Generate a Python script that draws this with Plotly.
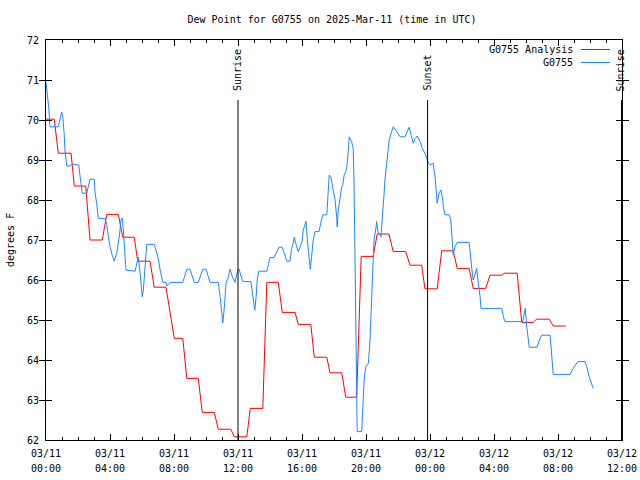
import pandas as pd
import plotly.graph_objects as go

START = pd.Timestamp("2025-03-11 00:00")

# Analysis series: minutes after 03/11 00:00 UTC, dew point (F)
analysis_min = [0, 31, 46, 94, 106, 149, 165, 211, 228, 271, 288, 331, 344, 390, 406, 450,
                481, 513, 528, 571, 586, 631, 646, 693, 706, 753, 766, 813, 828, 871, 886,
                934, 946, 993, 1006, 1053, 1065, 1109, 1124, 1165, 1182, 1227, 1242, 1286,
                1302, 1349, 1365, 1409, 1421, 1467, 1484, 1527, 1542, 1587, 1602, 1649, 1665,
                1710, 1718, 1767, 1784, 1827, 1839, 1887, 1902, 1949]
analysis_val = [70.02, 70.02, 69.17, 69.17, 68.35, 68.35, 67.0, 67.0, 67.64, 67.64, 67.07,
                67.07, 66.47, 66.47, 65.82, 65.82, 64.54, 64.54, 63.54, 63.54, 62.69, 62.69,
                62.27, 62.27, 62.08, 62.08, 62.79, 62.79, 65.94, 65.94, 65.19, 65.19, 64.89,
                64.89, 64.07, 64.07, 63.68, 63.68, 63.07, 63.07, 66.59, 66.59, 67.15, 67.15,
                66.71, 66.71, 66.37, 66.37, 65.78, 65.78, 66.73, 66.73, 66.29, 66.29, 65.79,
                65.79, 66.12, 66.12, 66.17, 66.17, 64.94, 64.94, 65.02, 65.02, 64.85, 64.85]

# Station observations
station_min = [0, 10, 15, 46, 59, 63, 68, 71, 78, 90, 99, 123, 128, 136, 153, 165, 181, 184,
               190, 196, 221, 228, 234, 240, 250, 256, 265, 275, 281, 286, 290, 294, 300, 334,
               340, 346, 353, 356, 361, 365, 369, 372, 378, 406, 413, 421, 428, 434, 438, 450,
               453, 465, 513, 528, 540, 556, 571, 588, 600, 615, 646, 653, 659, 663, 669, 675,
               684, 690, 699, 709, 719, 724, 734, 738, 768, 774, 780, 783, 788, 792, 798, 828,
               834, 840, 855, 865, 874, 886, 896, 903, 915, 921, 927, 931, 940, 946, 953, 960,
               965, 972, 975, 980, 987, 991, 996, 1002, 1009, 1024, 1030, 1038, 1053, 1056,
               1060, 1062, 1068, 1071, 1077, 1084, 1090, 1092, 1096, 1103, 1109, 1113, 1118,
               1124, 1128, 1134, 1137, 1146, 1152, 1155, 1159, 1163, 1165, 1167, 1184, 1188,
               1193, 1199, 1209, 1215, 1219, 1224, 1227, 1230, 1238, 1240, 1246, 1253, 1256,
               1261, 1268, 1271, 1275, 1281, 1287, 1296, 1302, 1315, 1328, 1346, 1362, 1371,
               1377, 1384, 1392, 1403, 1411, 1421, 1428, 1434, 1440, 1452, 1459, 1463, 1467,
               1474, 1481, 1488, 1490, 1496, 1512, 1518, 1520, 1524, 1527, 1534, 1542, 1586,
               1590, 1596, 1602, 1609, 1615, 1621, 1628, 1631, 1709, 1715, 1721, 1788, 1793,
               1797, 1803, 1809, 1812, 1842, 1850, 1859, 1890, 1895, 1900, 1902, 1965, 1977,
               1994, 2021, 2028, 2037, 2052]
station_val = [70.95, 70.33, 69.83, 69.83, 70.2, 70.08, 69.67, 69.25, 68.85, 68.85, 68.9,
               68.87, 68.58, 68.17, 68.17, 68.52, 68.52, 68.17, 67.92, 67.54, 67.54, 67.38,
               67.08, 66.83, 66.58, 66.47, 66.67, 67.08, 67.5, 67.55, 67.25, 66.83, 66.25,
               66.22, 66.42, 66.57, 66.17, 65.92, 65.58, 65.75, 66.08, 66.42, 66.89, 66.89,
               66.75, 66.54, 66.25, 66.0, 65.94, 65.94, 65.85, 65.94, 65.94, 66.27, 66.27,
               65.94, 65.94, 66.27, 66.27, 65.94, 65.94, 65.58, 65.08, 64.93, 65.33, 65.92,
               66.08, 66.27, 66.08, 65.94, 66.25, 66.27, 66.04, 65.96, 65.96, 65.67, 65.33,
               65.25, 65.58, 66.0, 66.22, 66.22, 66.38, 66.56, 66.56, 66.71, 66.82, 66.82,
               66.58, 66.47, 66.47, 66.79, 66.92, 67.07, 66.83, 66.71, 66.83, 66.96, 67.25,
               67.42, 67.47, 67.0, 66.58, 66.27, 66.58, 67.0, 67.21, 67.21, 67.42, 67.63,
               67.63, 68.0, 68.25, 68.62, 68.58, 68.46, 68.25, 68.0, 67.58, 67.33, 67.75,
               68.08, 68.33, 68.38, 68.62, 68.71, 68.83, 69.25, 69.58, 69.46, 69.29, 68.5,
               66.67, 64.83, 63.08, 62.21, 62.21, 62.75, 63.5, 63.83, 63.92, 64.5, 65.17,
               65.83, 66.58, 67.0, 67.33, 67.46, 67.17, 67.13, 67.08, 67.67, 68.17, 68.5,
               68.75, 69.17, 69.5, 69.71, 69.83, 69.71, 69.58, 69.58, 69.82, 69.58, 69.42,
               69.54, 69.6, 69.46, 69.29, 69.17, 69.04, 68.92, 68.88, 68.92, 68.58, 68.1,
               67.92, 68.17, 68.25, 68.0, 67.83, 67.63, 67.63, 67.5, 67.25, 67.0, 66.63,
               66.83, 66.94, 66.94, 66.75, 66.33, 66.0, 66.13, 66.29, 65.92, 65.58, 65.29,
               65.29, 65.08, 64.96, 64.96, 65.21, 65.29, 64.83, 64.5, 64.32, 64.32, 64.5,
               64.62, 64.62, 64.25, 63.83, 63.64, 63.64, 63.79, 63.96, 63.96, 63.83, 63.58,
               63.29]

# Sun events (UTC)
event_names = ["Sunrise", "Sunset", "Sunrise"]
event_times = ["2025-03-11 12:00", "2025-03-11 23:51", "2025-03-12 11:58"]

# Axis ticks
tick_vals = ["2025-03-11 00:00", "2025-03-11 04:00", "2025-03-11 08:00", "2025-03-11 12:00",
             "2025-03-11 16:00", "2025-03-11 20:00", "2025-03-12 00:00", "2025-03-12 04:00",
             "2025-03-12 08:00", "2025-03-12 12:00"]
tick_dates = ["03/11", "03/11", "03/11", "03/11", "03/11", "03/11", "03/12", "03/12", "03/12", "03/12"]
tick_times = ["00:00", "04:00", "08:00", "12:00", "16:00", "20:00", "00:00", "04:00", "08:00", "12:00"]
y_ticks = [62, 63, 64, 65, 66, 67, 68, 69, 70, 71, 72]

series_names = ["G0755 Analysis", "G0755"]
series_colors = ["#ff0000", "#1a88ff"]

FONT = "DejaVu Sans Mono"
X_RANGE = ["2025-03-11 00:00", "2025-03-12 12:00"]

# body margin is removed by post_script, so the figure fills the window
W, H = 640, 480
PL, PR, PT, PB = 46, 622, 40, 440          # plot box in window pixels
PW, PH = PR - PL, PB - PT


def px_x(x):
    return (x - PL) / PW


def px_y(y):
    return (PB - y) / PH


ax = START + pd.to_timedelta(analysis_min, unit="min")
sx = START + pd.to_timedelta(station_min, unit="min")

fig = go.Figure()
fig.add_trace(go.Scatter(x=ax, y=analysis_val, mode="lines", name=series_names[0],
                         line=dict(color=series_colors[0], width=1), showlegend=False))
fig.add_trace(go.Scatter(x=sx, y=station_val, mode="lines", name=series_names[1],
                         line=dict(color=series_colors[1], width=1), showlegend=False))
# invisible trace to hold the second (time-of-day) label axis
fig.add_trace(go.Scatter(x=[X_RANGE[0]], y=[None], xaxis="x2", showlegend=False, hoverinfo="skip"))

for name, t in zip(event_names, event_times):
    fig.add_shape(type="line", xref="x", yref="y", x0=t, x1=t, y0=62, y1=70.5,
                  line=dict(color="black", width=1))
    fig.add_annotation(x=t, xref="x", y=px_y(93), yref="paper", text=name, textangle=-90,
                       showarrow=False, xanchor="center", yanchor="bottom",
                       font=dict(family=FONT, size=10, color="black"))

# legend drawn gnuplot style: text on the left, sample on the right
for i, (name, col) in enumerate(zip(series_names, series_colors)):
    yp = px_y(49.5 + 13 * i)
    fig.add_annotation(x=px_x(575), xref="paper", y=yp, yref="paper", text=name,
                       showarrow=False, xanchor="right", yanchor="middle",
                       font=dict(family=FONT, size=10, color="black"))
    fig.add_shape(type="line", xref="paper", yref="paper", x0=px_x(581), x1=px_x(610),
                  y0=yp, y1=yp, line=dict(color=col, width=1))

fig.add_annotation(x=px_x(10), xref="paper", y=px_y(240), yref="paper", text="degrees F",
                   textangle=-90, showarrow=False, xanchor="center", yanchor="middle",
                   font=dict(family=FONT, size=10, color="black"))

fig.update_layout(
    width=W, height=H,
    margin=dict(l=PL, r=W - PR, t=PT, b=H - PB),
    paper_bgcolor="white", plot_bgcolor="white",
    font=dict(family=FONT, size=10, color="black"),
    hovermode=False,
    title=dict(text="Dew Point for G0755 on 2025-Mar-11 (time in UTC)",
               x=332 / W, xanchor="center", y=1 - 19 / H, yanchor="middle",
               font=dict(family=FONT, size=10, color="black")),
    xaxis=dict(range=X_RANGE, type="date", tickvals=tick_vals, ticktext=tick_dates,
               ticks="inside", ticklen=6, tickcolor="black", showline=True, linecolor="black",
               linewidth=1, mirror="allticks", showgrid=False, zeroline=False,
               ticklabelstandoff=4, automargin=False,
               minor=dict(dtick=3600000, ticks="inside", ticklen=3, tickcolor="black",
                          showgrid=False)),
    xaxis2=dict(range=X_RANGE, type="date", overlaying="x", anchor="y", side="bottom",
                tickvals=tick_vals, ticktext=tick_times, ticks="", showline=False,
                showgrid=False, zeroline=False, ticklabelstandoff=21, automargin=False),
    yaxis=dict(range=[62, 72], tickvals=y_ticks, ticks="inside", ticklen=6, tickcolor="black",
               showline=True, linecolor="black", linewidth=1, mirror="allticks",
               showgrid=False, zeroline=False, automargin=False, ticklabelstandoff=4),
)

fig.write_html("out.html", config={"displayModeBar": False},
               post_script="document.body.style.margin='0';document.body.style.overflow='hidden';")
